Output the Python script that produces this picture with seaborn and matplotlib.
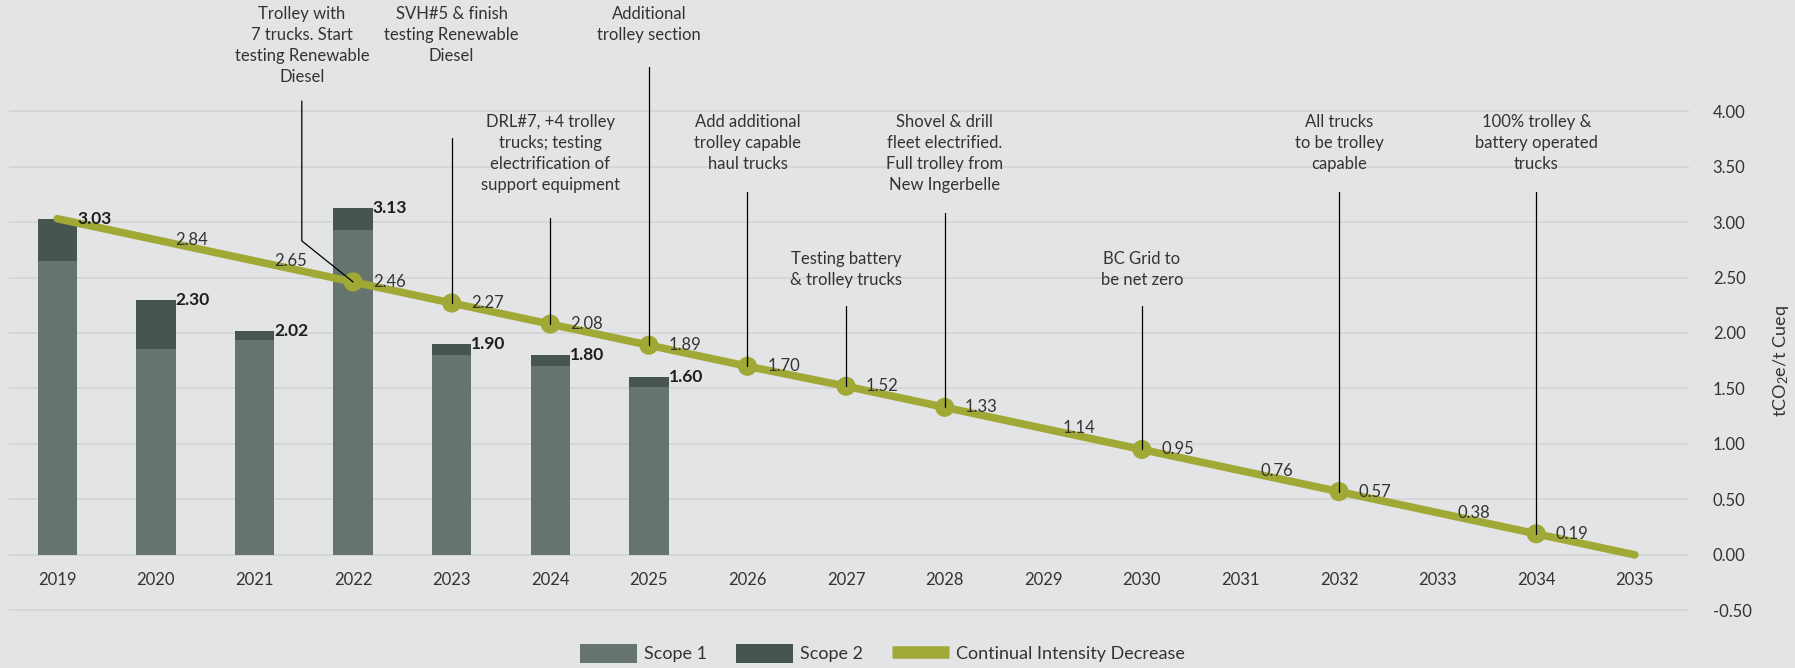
import numpy as np
import pandas as pd
import matplotlib
matplotlib.use("Agg")
import matplotlib.pyplot as plt
import seaborn as sns
from matplotlib.patches import Patch
from matplotlib.lines import Line2D

# ==============================================================================
# DATOS
# ==============================================================================
bar_years = [2019, 2020, 2021, 2022, 2023, 2024, 2025]
scope1 = [2.65, 1.86, 1.94, 2.93, 1.80, 1.70, 1.51]
totals = [3.03, 2.30, 2.02, 3.13, 1.90, 1.80, 1.60]

line_years = list(range(2019, 2036))
intensity = [3.03, 2.84, 2.65, 2.46, 2.27, 2.08, 1.89, 1.70, 1.52, 1.33,
             1.14, 0.95, 0.76, 0.57, 0.38, 0.19, 0.00]
marker_years = [2022, 2023, 2024, 2025, 2026, 2027, 2028, 2030, 2032, 2034]

# (year of marker, text x, text top y, line top y, text)
annotations = [
    (2022, 2021.48, 4.95, 4.09, "Trolley with\n7 trucks. Start\ntesting Renewable\nDiesel"),
    (2023, 2023.0, 4.95, 3.76, "SVH#5 & finish\ntesting Renewable\nDiesel"),
    (2025, 2025.0, 4.95, 4.40, "Additional\ntrolley section"),
    (2024, 2024.0, 3.97, 3.04, "DRL#7, +4 trolley\ntrucks; testing\nelectrification of\nsupport equipment"),
    (2026, 2026.0, 3.97, 3.27, "Add additional\ntrolley capable\nhaul trucks"),
    (2027, 2027.0, 2.74, 2.24, "Testing battery\n& trolley trucks"),
    (2028, 2028.0, 3.97, 3.08, "Shovel & drill\nfleet electrified.\nFull trolley from\nNew Ingerbelle"),
    (2030, 2030.0, 2.74, 2.24, "BC Grid to\nbe net zero"),
    (2032, 2032.0, 3.97, 3.27, "All trucks\nto be trolley\ncapable"),
    (2034, 2034.0, 3.97, 3.27, "100% trolley &\nbattery operated\ntrucks"),
]

y_ticks = [-0.5, 0.0, 0.5, 1.0, 1.5, 2.0, 2.5, 3.0, 3.5, 4.0]

# ==============================================================================
# ESTILO
# ==============================================================================
BG = "#e3e4e6"
GRID = "#d3d4d6"
C_S1 = "#65756d"
C_S2 = "#47554f"
C_LINE = "#a0a836"
TXT = "#333333"

sns.set_theme(style="white")
plt.rcParams["font.family"] = ["Lato", "DejaVu Sans"]
plt.rcParams["mathtext.default"] = "regular"

fig = plt.figure(figsize=(17.95, 6.68), dpi=100, facecolor=BG)
ax = fig.add_axes([0.005, 0.078, 0.936, 0.764])
ax.set_facecolor(BG)

df_bar = pd.DataFrame({"year": bar_years, "scope1": scope1, "total": totals})
df_line = pd.DataFrame({"year": line_years, "value": intensity})

# barras apiladas: total (scope 2) detras, scope 1 delante
sns.barplot(data=df_bar, x="year", y="total", native_scale=True, width=0.4,
            color=C_S2, saturation=1, linewidth=0, edgecolor="none",
            ax=ax, zorder=2)
sns.barplot(data=df_bar, x="year", y="scope1", native_scale=True, width=0.4,
            color=C_S1, saturation=1, linewidth=0, edgecolor="none",
            ax=ax, zorder=3)

# linea de intensidad
sns.lineplot(data=df_line, x="year", y="value", color=C_LINE, linewidth=5.5,
             ax=ax, zorder=4)
df_mark = df_line[df_line["year"].isin(marker_years)]
sns.scatterplot(data=df_mark, x="year", y="value", color=C_LINE, s=190,
                edgecolor="none", ax=ax, zorder=5)

# etiquetas de barras (negrita)
for yr, tot in zip(bar_years, totals):
    ax.text(yr + 0.2, tot, f"{tot:.2f}", fontsize=12.5, fontweight="bold",
            color="#1e1e1e", va="center", ha="left", zorder=6)

# etiquetas de la linea
for yr, val in zip(line_years, intensity):
    if yr == 2019 or yr == 2035:
        continue
    ax.text(yr + 0.2, val, f"{val:.2f}", fontsize=12, color=TXT,
            va="center", ha="left", zorder=6)

# etiquetas de años justo debajo de la linea cero
for yr in line_years:
    ax.text(yr, -0.23, str(yr), fontsize=12, color=TXT, ha="center",
            va="center", zorder=6)

# anotaciones
for yr, tx, ty, ly, label in annotations:
    val = intensity[line_years.index(yr)]
    ax.text(tx, ty, label, fontsize=12, color=TXT, ha="center", va="top",
            linespacing=1.38, clip_on=False, zorder=6)
    if yr == 2022:
        ax.plot([tx, tx, yr], [ly, 2.83, val], color="black", lw=0.9,
                clip_on=False, zorder=6)
    else:
        ax.plot([yr, yr], [ly, val], color="black", lw=0.9,
                clip_on=False, zorder=6)

# ejes
ax.set_xlim(2018.51, 2035.55)
ax.set_ylim(-0.55, 4.05)
ax.set_xticks([])
ax.set_yticks(y_ticks)
ax.set_yticklabels([f"{v:.2f}" for v in y_ticks], fontsize=12, color=TXT)
ax.yaxis.tick_right()
ax.yaxis.set_label_position("right")
ax.tick_params(axis="both", length=0)
ax.tick_params(axis="y", pad=17)
ax.set_xlabel("")
ax.set_ylabel(r"tCO$_2$e/t Cueq", fontsize=13, color=TXT, labelpad=14)
ax.grid(axis="y", color=GRID, linewidth=1.2, zorder=0)
ax.set_axisbelow(True)
for s in ax.spines.values():
    s.set_visible(False)

handles = [
    Patch(facecolor=C_S1, edgecolor="none", label="Scope 1"),
    Patch(facecolor=C_S2, edgecolor="none", label="Scope 2"),
    Line2D([], [], color=C_LINE, lw=9, solid_capstyle="butt", label="Continual Intensity Decrease"),
]
fig.legend(handles=handles, loc="center", bbox_to_anchor=(882 / 1795, 0.022),
           ncol=3, frameon=False, fontsize=13, handlelength=3.2,
           handleheight=1.2, handletextpad=0.35, columnspacing=1.6,
           labelcolor=TXT)

fig.savefig("out.png", dpi=100, facecolor=BG)
plt.close(fig)
